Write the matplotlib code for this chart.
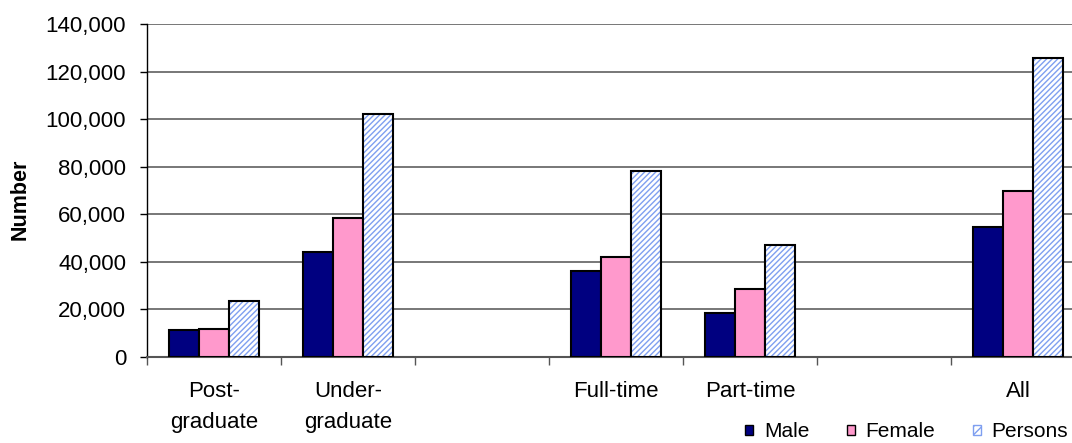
import matplotlib
matplotlib.use("Agg")
import matplotlib.pyplot as plt
from matplotlib.patches import Patch
from matplotlib.ticker import FuncFormatter
import numpy as np

plt.rcParams['font.family'] = ['Liberation Sans', 'DejaVu Sans']

# student numbers by level / mode of study (blank slots separate the groups)
categories = ["Post-\ngraduate", "Under-\ngraduate", "", "Full-time", "Part-time", "", "All"]
male = [11200, 44000, None, 36300, 18600, None, 54800]
female = [11900, 58400, None, 42200, 28600, None, 69900]
persons = [23600, 102200, None, 78400, 47200, None, 125800]

navy = "#000080"
pink = "#ff99cc"
hatch_blue = "#7f9ff0"

fig = plt.figure(figsize=(10.72, 4.43), dpi=100)
ax = fig.add_axes([0.1371, 0.1941, 0.875, 0.7517])

x = np.arange(len(categories))
w = 0.224
idx = [i for i, v in enumerate(male) if v is not None]
xi = x[idx]
m = [male[i] for i in idx]
f = [female[i] for i in idx]
p = [persons[i] for i in idx]

ax.bar(xi - w, m, w, color=navy, edgecolor="black", linewidth=1.5, zorder=3)
ax.bar(xi, f, w, color=pink, edgecolor="black", linewidth=1.5, zorder=3)
# hatched fill first, then a plain black outline on top
ax.bar(xi + w, p, w, color="white", edgecolor=hatch_blue, hatch="//////",
       linewidth=0, zorder=3)
ax.bar(xi + w, p, w, fill=False, edgecolor="black", linewidth=1.5, zorder=4)

ax.set_xlim(-0.5, len(categories) - 0.5)
ax.set_ylim(0, 140000)
ax.set_yticks(np.arange(0, 140001, 20000))
ax.yaxis.set_major_formatter(FuncFormatter(lambda v, _: f"{int(v):,}"))
ax.grid(axis="y", color="#606060", linewidth=1.2, zorder=0)

# category ticks sit on the slot boundaries, labels in the middle
ax.set_xticks(np.arange(-0.5, len(categories), 1.0))
ax.set_xticklabels([])
ax.set_xticks(x, minor=True)
ax.set_xticklabels(categories, minor=True, fontsize=16, linespacing=1.65)
ax.tick_params(axis="x", which="minor", length=0, pad=17)
ax.tick_params(axis="x", which="major", length=6, width=1, color="#555555")
ax.tick_params(axis="y", length=5, width=1, labelsize=16, pad=10)

for side in ("top", "right"):
    ax.spines[side].set_visible(False)
ax.spines["left"].set_linewidth(1)
ax.spines["bottom"].set_color("#555555")
ax.spines["bottom"].set_linewidth(1.5)

ax.set_ylabel("Number", fontsize=15.5, fontweight="bold")
ax.yaxis.set_label_coords(-0.124, 0.474)

handles = [Patch(facecolor=navy, edgecolor="black"),
           Patch(facecolor=pink, edgecolor="black"),
           Patch(facecolor="white", edgecolor=hatch_blue, hatch="////")]
fig.legend(handles, ["Male", "Female", "Persons"], loc="lower right",
           bbox_to_anchor=(1068 / 1072, 0.004), ncol=3, frameon=False,
           fontsize=15, handlelength=0.4, handleheight=0.4, handletextpad=0.5,
           columnspacing=1.8, borderpad=0, borderaxespad=0)

fig.savefig("out.png", dpi=100)
